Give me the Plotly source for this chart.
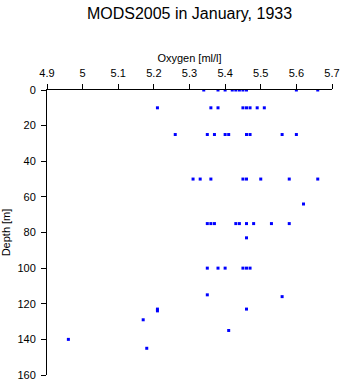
import plotly.graph_objects as go

# Observed oxygen profile samples (depth in m, oxygen in ml/l)
depth = [
    0, 0, 0, 0, 0, 0, 0, 0, 0, 0,
    10, 10, 10, 10, 10, 10, 10, 10,
    25, 25, 25, 25, 25, 25, 25, 25, 25,
    50, 50, 50, 50, 50, 50, 50, 50,
    64,
    75, 75, 75, 75, 75, 75, 75, 75, 75,
    83,
    100, 100, 100, 100, 100, 100,
    115, 116, 123, 123, 124, 129, 135, 140, 145,
]
oxygen = [
    5.34, 5.38, 5.40, 5.42, 5.43, 5.44, 5.45, 5.46, 5.60, 5.66,
    5.21, 5.36, 5.38, 5.45, 5.46, 5.47, 5.49, 5.51,
    5.26, 5.35, 5.37, 5.40, 5.41, 5.46, 5.47, 5.56, 5.60,
    5.31, 5.33, 5.36, 5.45, 5.46, 5.50, 5.58, 5.66,
    5.62,
    5.35, 5.36, 5.37, 5.43, 5.44, 5.46, 5.48, 5.53, 5.58,
    5.46,
    5.35, 5.38, 5.40, 5.45, 5.46, 5.47,
    5.35, 5.56, 5.21, 5.46, 5.21, 5.17, 5.41, 4.96, 5.18,
]

x_ticks = [4.9, 5.0, 5.1, 5.2, 5.3, 5.4, 5.5, 5.6, 5.7]
x_tick_text = ["4.9", "5", "5.1", "5.2", "5.3", "5.4", "5.5", "5.6", "5.7"]
y_ticks = [0, 20, 40, 60, 80, 100, 120, 140, 160]

font = "Liberation Sans, Arial, sans-serif"

fig = go.Figure(
    go.Scatter(
        x=oxygen,
        y=depth,
        mode="markers",
        marker=dict(symbol="square", size=3, color="#0000ff", line=dict(width=0)),
        hoverinfo="x+y",
    )
)

fig.update_layout(
    width=343,
    height=384,
    margin=dict(l=47, r=11, t=90, b=9),
    paper_bgcolor="white",
    plot_bgcolor="white",
    showlegend=False,
    font=dict(family=font, color="black"),
    title=dict(
        text="MODS2005 in January, 1933",
        x=0.5,
        xanchor="center",
        xref="paper",
        y=1 - 13 / 384,
        yanchor="middle",
        yref="container",
        font=dict(size=16, family=font, color="black"),
    ),
)

fig.update_xaxes(
    side="top",
    range=[4.9, 5.7],
    tickvals=x_ticks,
    ticktext=x_tick_text,
    ticks="outside",
    ticklen=5,
    tickwidth=1,
    tickcolor="black",
    showline=True,
    linecolor="black",
    linewidth=1,
    showgrid=False,
    zeroline=False,
    automargin=False,
    tickfont=dict(size=11),
    ticklabelstandoff=3,
    title=dict(text="Oxygen [ml/l]", font=dict(size=11), standoff=1),
)

fig.update_yaxes(
    range=[160, 0],
    tickvals=y_ticks,
    ticks="outside",
    ticklen=5,
    tickwidth=1,
    tickcolor="black",
    showline=True,
    linecolor="black",
    linewidth=1,
    showgrid=False,
    zeroline=False,
    automargin=False,
    tickfont=dict(size=11),
    ticklabelstandoff=3,
    title=dict(text="Depth [m]", font=dict(size=11), standoff=8),
)

fig.write_html("out.html")
